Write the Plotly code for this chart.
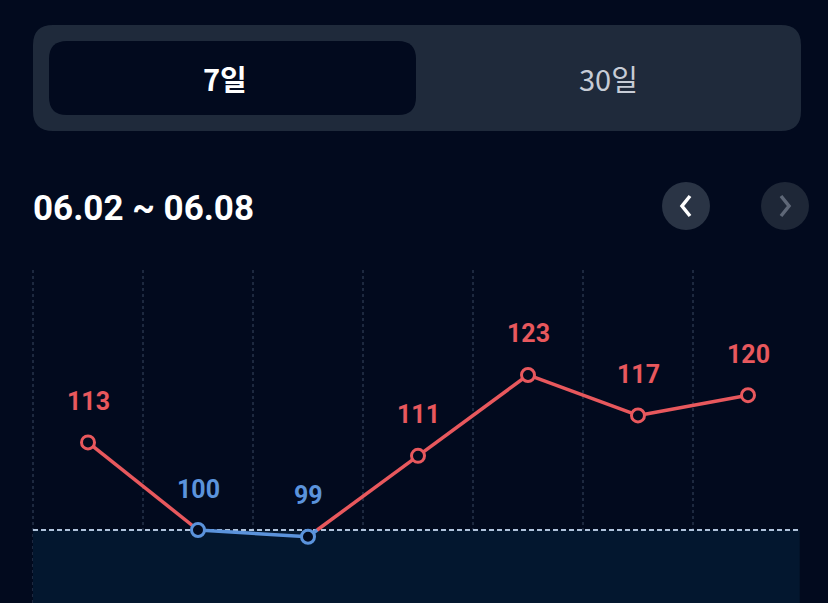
import plotly.graph_objects as go

# ---- data ----
days = ["06.02", "06.03", "06.04", "06.05", "06.06", "06.07", "06.08"]
values = [113, 100, 99, 111, 123, 117, 120]
baseline = 100
range_label = "06.02 ~ 06.08"
tabs = ["7일", "30일"]

# ---- style ----
BG = "#020a1e"
RED = "#e8585d"
BLUE = "#5b93dc"
W, H = 828, 603
PX_LEFT = 88      # pixel x of first category centre
PX_STEP = 110     # pixel spacing of categories
PX_BASE = 530     # pixel y of baseline
PX_PER_UNIT = 6.74

xr0 = -PX_LEFT / PX_STEP
xr1 = xr0 + W / PX_STEP
ytop = baseline + PX_BASE / PX_PER_UNIT
ybot = baseline - (H - PX_BASE) / PX_PER_UNIT

xs = list(range(len(days)))
fig = go.Figure()

# shaded region under baseline
fig.add_shape(type="rect", xref="x", yref="y", x0=-0.5, x1=6.47, y0=ybot, y1=baseline,
              fillcolor="#03172f", line_width=0, layer="below")
# vertical dotted gridlines
for i in xs:
    fig.add_shape(type="line", xref="x", yref="paper", x0=i - 0.5, x1=i - 0.5,
                  y0=0, y1=1 - 270 / H, line=dict(color="#2a374e", width=1.4, dash="dot"),
                  layer="below")
# baseline dashed line
fig.add_shape(type="line", xref="x", yref="y", x0=-0.5, x1=6.47, y0=baseline, y1=baseline,
              line=dict(color="#b0c3dc", width=2.2, dash="5px,3px"), layer="below")

# line segments coloured by baseline
for i in range(len(values) - 1):
    x0, x1, v0, v1 = xs[i], xs[i + 1], values[i], values[i + 1]
    pts = [(x0, v0)]
    if (v0 - baseline) * (v1 - baseline) < 0:
        t = (baseline - v0) / (v1 - v0)
        pts.append((x0 + t * (x1 - x0), baseline))
    pts.append((x1, v1))
    for (ax, av), (bx, bv) in zip(pts[:-1], pts[1:]):
        col = RED if max(av, bv) > baseline else BLUE
        fig.add_trace(go.Scatter(x=[ax, bx], y=[av, bv], mode="lines",
                                 line=dict(color=col, width=3.5), hoverinfo="skip",
                                 showlegend=False))

colors = [RED if v > baseline else BLUE for v in values]
fig.add_trace(go.Scatter(
    x=xs, y=values, mode="markers",
    marker=dict(size=13, color=BG, line=dict(color=colors, width=3)),
    showlegend=False, cliponaxis=False, hoverinfo="skip"))

annos = []
for x, v, c in zip(xs, values, colors):
    annos.append(dict(x=x, y=v, xref="x", yref="y", text=f"<b>{v}</b>", yshift=41,
                      font=dict(family="Roboto", size=25, color=c)))


def rr(x0, y0, x1, y1, r, color):
    px0, py0 = x0 / W, 1 - y0 / H
    px1, py1 = x1 / W, 1 - y1 / H
    rx, ry = r / W, r / H
    path = (f"M {px0+rx},{py0} L {px1-rx},{py0} Q {px1},{py0} {px1},{py0-ry} "
            f"L {px1},{py1+ry} Q {px1},{py1} {px1-rx},{py1} L {px0+rx},{py1} "
            f"Q {px0},{py1} {px0},{py1+ry} L {px0},{py0-ry} Q {px0},{py0} {px0+rx},{py0} Z")
    fig.add_shape(type="path", xref="paper", yref="paper", path=path,
                  fillcolor=color, line_width=0, layer="above")


rr(33, 25, 801, 131, 20, "#1f2a3b")
rr(49, 41, 416, 115, 18, "#020a1e")

annos.append(dict(x=225 / W, y=1 - 78 / H, xref="paper", yref="paper", text=f"<b>{tabs[0]}</b>",
                  font=dict(family="Noto Sans CJK KR", size=29, color="#ffffff")))
annos.append(dict(x=608 / W, y=1 - 78 / H, xref="paper", yref="paper", text=tabs[1],
                  font=dict(family="Noto Sans CJK KR", size=29, color="#c7ccd6")))
annos.append(dict(x=31 / W, y=1 - 208 / H, xref="paper", yref="paper",
                  text=f"<b>{range_label}</b>", xanchor="left",
                  font=dict(family="Roboto", size=35, color="#ffffff")))

# nav buttons
for cx, fill in [(686, "#2a3445"), (785, "#1e2737")]:
    r = 24
    fig.add_shape(type="circle", xref="paper", yref="paper",
                  x0=(cx - r) / W, x1=(cx + r) / W, y0=1 - (206 + r) / H, y1=1 - (206 - r) / H,
                  fillcolor=fill, line_width=0)
for cx, sgn, col in [(686, -1, "#ffffff"), (785, 1, "#5e6777")]:
    xa = cx - 4 * sgn
    xb = cx + 4 * sgn
    fig.add_shape(type="path", xref="paper", yref="paper",
                  path=f"M {xa/W},{1-196/H} L {xb/W},{1-206/H} L {xa/W},{1-216/H}",
                  line=dict(color=col, width=3.5))

for a in annos:
    a.setdefault("xanchor", "center")
    a.update(yanchor="middle", showarrow=False)
fig.update_layout(annotations=annos)

fig.update_layout(
    width=W, height=H, margin=dict(l=0, r=0, t=0, b=0),
    paper_bgcolor=BG, plot_bgcolor=BG,
    xaxis=dict(range=[xr0, xr1], visible=False, fixedrange=True),
    yaxis=dict(range=[ybot, ytop], visible=False, fixedrange=True),
    showlegend=False,
)
fig.write_html("out.html", config={"displayModeBar": False},
               post_script="document.body.style.margin='0';document.body.style.background='#020a1e';")
